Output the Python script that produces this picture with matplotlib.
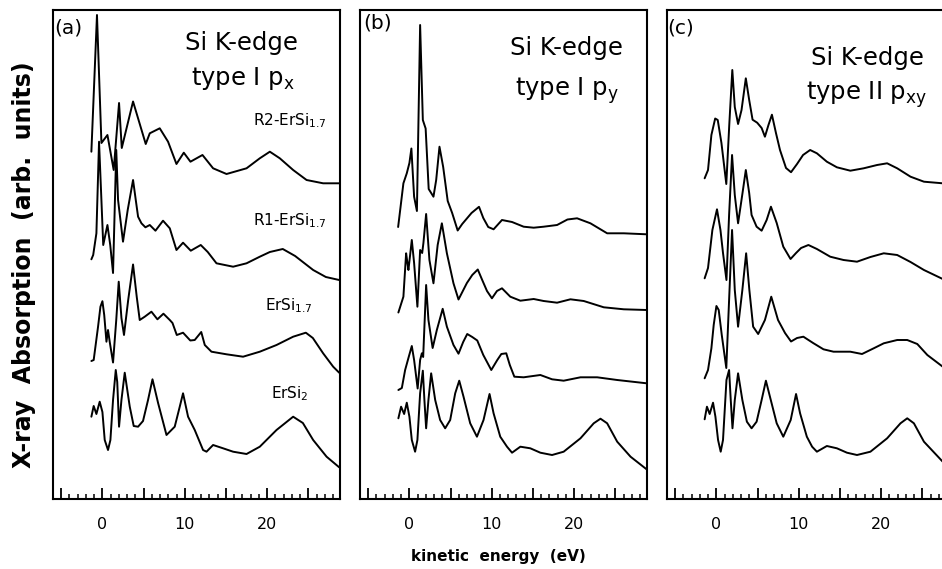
import matplotlib
matplotlib.use("Agg")
import matplotlib.pyplot as plt
from matplotlib.ticker import MultipleLocator, FuncFormatter

plt.rcParams['font.family'] = ['DejaVu Sans']
plt.rcParams['mathtext.fontset'] = 'dejavusans'

# ---------------- data (energy in eV, absorption in arb. units) ----------------
# panel (a): type I p_x
a_r2_e = [-1.34, -0.66, -0.12, 0.61, 1.37, 2.02, 2.35, 3.72, 5.26, 5.75, 6.96, 7.97, 8.99, 9.88,
          10.69, 12.15, 13.44, 15.07, 17.50, 19.11, 20.33, 21.54, 23.16, 24.79, 26.80, 28.75]
a_r2_i = [47.3, 184, 56, 64, 29, 96, 51, 97.5, 55, 65.7, 70.7, 57.3, 35, 46.3,
          37.3, 44, 30.7, 25, 30.7, 40.7, 47.3, 40.7, 29, 19, 15.7, 15.7]

a_r1_e = [-1.34, -1.12, -0.73, -0.41, 0.10, 0.61, 0.95, 1.29, 1.68, 1.90, 2.50, 3.07, 3.72, 4.05,
          4.33, 4.74, 5.22, 5.75, 6.44, 7.36, 8.18, 8.99, 9.79, 10.73, 11.94, 12.79, 13.85,
          15.87, 17.50, 19.11, 20.33, 21.9, 23.4, 25.59, 27.13, 28.75]
a_r1_i = [29.7, 34, 55.7, 147.3, 44, 64, 44, 16, 139, 89, 47.3, 79, 109, 89,
          72.3, 65.7, 61.7, 64, 58.3, 68.3, 60.7, 39, 46.3, 38.3, 44, 37, 25.7,
          22.3, 25.7, 32.3, 37, 40, 33, 19, 12, 9]

a_e17_e = [-1.34, -1.06, -0.53, -0.24, 0.00, 0.22, 0.49, 0.68, 0.89, 1.29, 1.68, 1.98, 2.31, 2.62,
           3.13, 3.72, 4.17, 4.53, 5.14, 5.95, 6.68, 7.41, 8.18, 8.51, 9.03, 9.79, 10.67, 11.21,
           12.00, 12.43, 13.24, 15.07, 17.08, 19.11, 21.14, 23.16, 24.70, 25.55, 26.80, 28.02, 28.75]
a_e17_i = [18, 19, 52.3, 72.3, 77.8, 64, 37.3, 49, 37, 16.5, 59, 97.3, 61, 44,
           79, 114.5, 82, 59, 62.3, 67.3, 59.7, 65.3, 59, 56, 44, 46.3, 38.5, 39,
           47, 34, 27.3, 24.7, 22.3, 27.3, 34, 42.3, 46.3, 41, 25.7, 12.3, 6.3]

a_e2_e = [-1.34, -1.06, -0.73, -0.33, 0.00, 0.28, 0.68, 0.97, 1.29, 1.62, 1.80, 2.02, 2.31, 2.71,
          3.32, 3.80, 4.33, 4.93, 5.54, 6.08, 6.76, 7.78, 8.78, 9.39, 9.79, 10.40, 11.21, 12.22,
          12.64, 13.44, 14.65, 15.87, 17.50, 19.11, 21.14, 23.16, 24.34, 25.59, 27.22, 28.75]
a_e2_i = [52.3, 63, 55, 67.3, 57, 29, 19, 29, 69, 99, 87, 42.3, 69, 96.3,
          62.3, 43, 42.3, 48, 69, 89.7, 66, 34, 42.3, 62.3, 75.7, 52.3, 39, 19,
          17.3, 24, 20.7, 17.3, 15, 22.3, 39, 52.3, 46, 29, 12.3, 1.7]

# panel (b): type I p_y
b_1_e = [-1.37, -0.73, -0.32, 0.00, 0.24, 0.57, 0.91, 1.30, 1.63, 1.97, 2.34, 2.92, 3.25, 3.65,
         4.10, 4.65, 5.19, 5.86, 6.41, 7.54, 8.45, 8.97, 9.57, 10.22, 11.24, 12.46, 13.87, 15.09,
         16.30, 17.93, 19.19, 20.36, 21.98, 24.01, 26.03, 28.80]
b_1_i = [32, 75.7, 85.7, 96, 110.5, 62.3, 48, 234, 139, 130.5, 70, 62.3, 79, 112.3,
         92, 58, 46, 28.5, 35, 46, 52.2, 41, 32, 29.7, 39, 37, 32.3, 31.3,
         32.3, 34, 39.5, 40.7, 35.7, 25.7, 25.7, 24.7]

b_2_e = [-1.34, -0.73, -0.40, -0.24, -0.12, 0.29, 0.57, 0.97, 1.30, 1.55, 1.70, 2.03, 2.43, 2.92,
         3.43, 3.94, 4.55, 5.35, 5.96, 6.98, 7.63, 8.30, 8.84, 9.42, 10.02, 10.63, 11.24, 12.25,
         13.47, 15.09, 16.30, 17.93, 19.55, 21.17, 23.60, 26.03, 28.80]
b_2_i = [16.5, 32.3, 75.7, 66, 59, 89, 66, 22.3, 79, 76, 86, 115, 69, 45.7,
         84, 105.7, 75.7, 45.7, 29.5, 46, 54, 59.5, 49, 38, 30.7, 38, 40.7, 32.3,
         28.3, 30, 28, 26.3, 29.7, 28, 21.7, 19.7, 19]

b_3_e = [-1.34, -0.92, -0.52, -0.12, 0.29, 0.57, 1.00, 1.30, 1.51, 1.67, 2.03, 2.31, 2.82, 3.33,
         4.04, 4.55, 5.35, 5.96, 6.53, 7.02, 7.63, 8.24, 8.97, 9.94, 10.67, 11.16, 11.76, 12.19,
         12.74, 13.87, 15.90, 17.32, 18.73, 20.77, 22.80, 25.23, 28.80]
b_3_i = [9, 11, 29, 41, 53, 39, 10.5, 39, 45.7, 42, 114, 79, 51, 69,
         90.2, 72.3, 54, 45.3, 57, 65, 62, 58.5, 44, 29, 39, 45, 45.7, 34,
         22.3, 21.7, 24, 19.7, 18.3, 21.7, 21.7, 19, 15.7]

b_4_e = [-1.34, -1.01, -0.64, -0.32, 0.00, 0.29, 0.69, 0.97, 1.30, 1.63, 1.82, 2.03, 2.31, 2.64,
         3.13, 3.73, 4.34, 4.95, 5.56, 6.05, 6.57, 7.38, 8.20, 9.00, 9.73, 10.22, 11.03, 11.85,
         12.46, 13.47, 14.68, 15.90, 17.32, 18.73, 20.77, 22.38, 23.20, 24.01, 25.23, 26.85, 28.80]
b_4_i = [50.7, 62.3, 55, 66.3, 52.3, 29, 17.3, 29, 75.7, 98.3, 69, 40.7, 69, 95.7,
         69, 49, 40.7, 49, 75.7, 88.3, 72.3, 45.7, 32.3, 49, 75, 55.7, 32.3, 22.3,
         16.3, 22.3, 20.7, 16.3, 14, 17.3, 30.7, 45.7, 50.3, 45.7, 27.3, 12.3, -0.3]

# panel (c): type II p_xy
c_1_e = [-1.43, -1.02, -0.61, -0.15, 0.16, 0.61, 1.20, 1.56, 1.93, 2.23, 2.63, 3.05, 3.57, 3.98,
         4.39, 4.95, 5.49, 5.89, 6.32, 6.74, 7.23, 7.72, 8.45, 9.06, 9.79, 10.52, 11.38, 12.20,
         13.41, 14.63, 16.26, 17.88, 19.51, 20.73, 21.95, 23.57, 25.20, 27.48, 28.82]
c_1_i = [20.7, 29, 64, 80.5, 79, 56, 15, 74, 129, 92, 75, 89, 120.7, 99,
         79.3, 76.3, 71, 62.3, 74, 84.3, 66, 49, 31, 26.8, 35, 44, 49, 45.7,
         37.3, 31.7, 28.3, 30.7, 34, 35.7, 30.7, 22.3, 17.3, 15.7, 15]

c_2_e = [-1.43, -1.02, -0.49, 0.07, 0.49, 0.80, 1.22, 1.54, 1.90, 2.23, 2.63, 3.17, 3.57, 3.98,
         4.27, 4.88, 5.49, 6.10, 6.62, 7.32, 8.12, 9.00, 9.67, 10.28, 11.17, 12.20, 13.82, 15.44,
         17.07, 18.70, 20.32, 21.95, 23.57, 25.20, 27.48, 28.82]
c_2_i = [10.7, 21, 59, 79.7, 59, 36, 9, 74, 134, 94, 65.7, 96, 119, 96,
         74, 62.3, 58.3, 69, 82.3, 66, 42.3, 30, 36, 41, 44, 40, 32.3, 29,
         27.3, 32, 35.7, 34, 27, 19, 10, 6]

c_3_e = [-1.43, -1.02, -0.61, -0.33, 0.00, 0.28, 0.65, 1.20, 1.54, 1.90, 2.23, 2.63, 3.15, 3.61,
         4.00, 4.46, 5.07, 5.89, 6.66, 7.48, 8.33, 9.06, 9.79, 10.56, 11.74, 13.00, 14.22, 16.26,
         17.68, 19.10, 20.32, 21.95, 23.17, 24.39, 25.61, 27.48, 28.82]
c_3_i = [0.7, 9, 30.7, 54, 73, 69, 44, 11, 79, 149, 89, 52.3, 89, 125.7,
         89, 52.3, 45, 59, 82.3, 59, 46, 37.5, 41, 42.3, 36, 29.7, 27.3, 27.3,
         25, 30.7, 35.7, 39, 39, 35, 24, 12.3, 7]

c_4_e = [-1.43, -1.15, -0.82, -0.41, -0.12, 0.20, 0.52, 0.80, 1.22, 1.54, 1.74, 1.95, 2.23, 2.63,
         3.15, 3.70, 4.27, 4.88, 5.49, 6.01, 6.50, 7.32, 8.12, 9.02, 9.67, 10.16, 10.98, 11.62,
         12.20, 13.41, 14.63, 15.85, 17.07, 18.70, 20.73, 22.35, 23.17, 23.98, 25.20, 27.48, 28.82]
c_4_i = [49.7, 62.3, 55, 66.3, 52.3, 29, 17.3, 29, 89, 99, 69, 40.7, 69, 95.7,
         69, 47.3, 40.7, 47.3, 69, 88.3, 72.3, 45.7, 32.3, 49, 75, 55.7, 32.3, 22.3,
         17.3, 23, 20.7, 16.3, 14, 17.3, 30.7, 45.7, 50.7, 45.7, 27.3, 7.3, 0]

# vertical offsets of the stacked spectra (top to bottom)
offsets = [300, 210, 120, 30]
offsets_b = [240, 170, 100, 30]

curve_labels_a = [r"R2-ErSi$_\mathregular{1.7}$", r"R1-ErSi$_\mathregular{1.7}$",
                  r"ErSi$_\mathregular{1.7}$", r"ErSi$_\mathregular{2}$"]
panel_tags = ["(a)", "(b)", "(c)"]
title_line1 = "Si K-edge"
title_line2 = [r"type I p$_\mathregular{x}$", r"type I p$_\mathregular{y}$",
               r"type II p$_\mathregular{xy}$"]
tick_values = [0, 10, 20]
tick_labels = ["0", "10", "20"]

# ---------------- figure ----------------
W, H = 942, 569
fig = plt.figure(figsize=(W / 100, H / 100), dpi=100)

def fx(px):
    return px / W

def fy(py):
    return 1 - py / H

ax_bottom = fy(499)
ax_height = fy(10) - fy(499)
ax_width = fx(286.6)
lefts = [fx(53), fx(360), fx(667)]

panels = [
    [(a_r2_e, a_r2_i), (a_r1_e, a_r1_i), (a_e17_e, a_e17_i), (a_e2_e, a_e2_i)],
    [(b_1_e, b_1_i), (b_2_e, b_2_i), (b_3_e, b_3_i), (b_4_e, b_4_i)],
    [(c_1_e, c_1_i), (c_2_e, c_2_i), (c_3_e, c_3_i), (c_4_e, c_4_i)],
]
panel_offsets = [offsets, offsets_b, offsets]

def fmt(v, pos):
    for tv, tl in zip(tick_values, tick_labels):
        if abs(v - tv) < 1e-6:
            return tl
    return ""

axes = []
for k in range(3):
    ax = fig.add_axes([lefts[k], ax_bottom, ax_width, ax_height])
    axes.append(ax)
    for (e, i), off in zip(panels[k], panel_offsets[k]):
        ax.plot(e, [v + off for v in i], color='black', lw=1.4,
                solid_joinstyle='round', solid_capstyle='round')
    ax.set_xlim(-6, 28.8)
    ax.set_ylim(0, 489)
    ax.set_yticks([])
    ax.xaxis.set_major_locator(MultipleLocator(5))
    ax.xaxis.set_minor_locator(MultipleLocator(1))
    ax.xaxis.set_major_formatter(FuncFormatter(fmt))
    ax.tick_params(axis='x', which='major', direction='in', length=8, width=1.3,
                   pad=13, labelsize=11.5, top=False)
    ax.tick_params(axis='x', which='minor', direction='in', length=3.8, width=1.1, top=False)
    for s in ax.spines.values():
        s.set_linewidth(1.5)

# panel tags and titles
axes[0].text(-5.8, 471, panel_tags[0], fontsize=14.5, ha='left', va='center')
axes[1].text(-5.63, 476, panel_tags[1], fontsize=14.5, ha='left', va='center')
axes[2].text(-5.94, 471, panel_tags[2], fontsize=14.5, ha='left', va='center')

axes[0].text(16.86, 449, title_line1, fontsize=17.5, ha='center', va='baseline')
axes[0].text(17.05, 414, title_line2[0], fontsize=17.5, ha='center', va='baseline')
axes[1].text(19.06, 444, title_line1, fontsize=17.5, ha='center', va='baseline')
axes[1].text(19.15, 403, title_line2[1], fontsize=17.5, ha='center', va='baseline')
axes[2].text(18.29, 434, title_line1, fontsize=17.5, ha='center', va='baseline')
axes[2].text(18.29, 399, title_line2[2], fontsize=17.5, ha='center', va='baseline')

# curve labels in panel (a)
label_pos = [(18.3, 374), (18.3, 274), (19.72, 189), (20.41, 101)]
for (x, y), lab in zip(label_pos, curve_labels_a):
    axes[0].text(x, y, lab, fontsize=11, ha='left', va='baseline')

fig.text(fx(24), fy(265), "X-ray  Absorption  (arb.  units)", rotation=90,
         fontsize=17, fontweight='bold', ha='center', va='center')
fig.text(fx(498), fy(556), "kinetic  energy  (eV)", fontsize=11,
         fontweight='bold', ha='center', va='center')

fig.savefig("out.png", dpi=100)
